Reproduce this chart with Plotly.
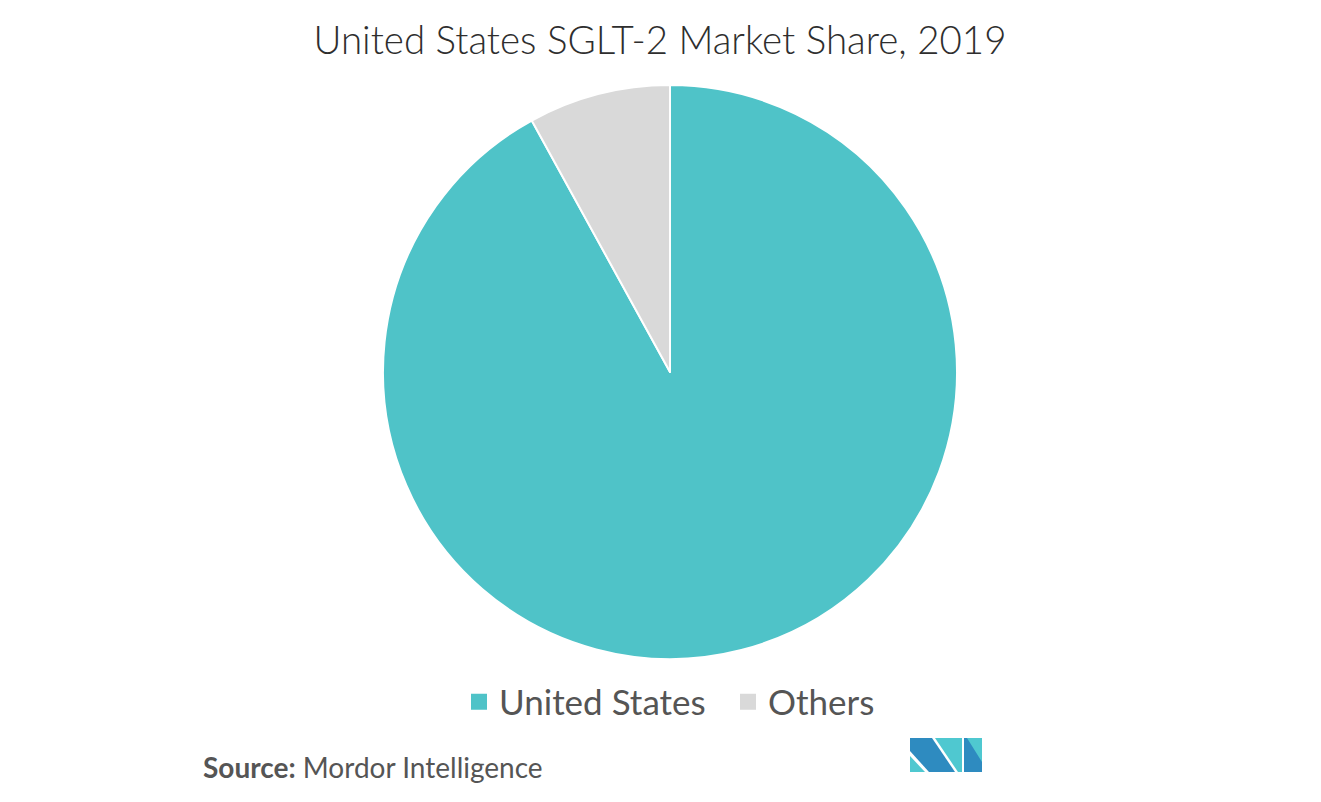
import plotly.graph_objects as go

categories = ["United States", "Others"]
shares = [92, 8]
colors = ["#4FC3C8", "#D9D9D9"]

title_text = "United States SGLT-2 Market Share, 2019"
source_label = "Source:"
source_name = "Mordor Intelligence"

# page body has an 8px margin; size the figure to the visible area
OFF = 8
W, H = 1321 - 2 * OFF, 802 - 2 * OFF


def px(x):
    return (x - OFF) / W


def py(y):
    return 1 - (y - OFF) / H


fig = go.Figure()
fig.add_trace(go.Pie(
    labels=categories,
    values=shares,
    sort=False,
    direction="clockwise",
    rotation=0,
    marker=dict(colors=colors, line=dict(color="white", width=2)),
    textinfo="none",
    hoverinfo="label+percent",
    showlegend=False,
    domain=dict(x=[px(383), px(957)], y=[py(659), py(85)]),
))

# legend entries with larger square swatches
for name, c in zip(categories, colors):
    fig.add_trace(go.Scatter(
        x=[None], y=[None], mode="markers", name=name,
        marker=dict(symbol="square", size=17, color=c),
        showlegend=True, hoverinfo="skip",
    ))


def path(points):
    return "M " + " L ".join(f"{px(x)},{py(y)}" for x, y in points) + " Z"


dark = "#2E8BC0"
teal = "#4FC8D0"
logo = [
    ([(910, 738), (932, 738), (955, 772), (929, 772), (910, 751)], dark),
    ([(910, 756), (910, 772), (925, 772)], teal),
    ([(935, 738), (962, 738), (962, 772), (958, 772)], teal),
    ([(964, 738), (982, 738), (982, 772), (964, 772)], dark),
    ([(967, 738), (982, 738), (982, 762)], teal),
]
shapes = []
for pts, c in logo:
    shapes.append(dict(type="path", xref="paper", yref="paper", path=path(pts),
                       fillcolor=c, line=dict(width=0)))

fig.update_layout(
    width=W, height=H,
    paper_bgcolor="white",
    plot_bgcolor="white",
    margin=dict(l=0, r=0, t=0, b=0),
    xaxis=dict(visible=False),
    yaxis=dict(visible=False),
    font=dict(family="Lato, sans-serif", color="#555555"),
    title=dict(text=title_text, x=px(660), xanchor="center", y=py(41), yanchor="middle",
               font=dict(family="Lato, sans-serif", size=38.5, color="#2E2E2E", weight=300)),
    showlegend=True,
    legend=dict(orientation="h", x=px(459), xanchor="left", y=py(702), yanchor="middle",
                font=dict(family="Lato, sans-serif", size=35, color="#555555"),
                itemwidth=30, entrywidth=224, entrywidthmode="pixels",
                traceorder="normal", bgcolor="rgba(0,0,0,0)"),
    annotations=[dict(
        text=f"<b>{source_label}</b> {source_name}",
        x=px(201), y=py(767), xref="paper", yref="paper",
        xanchor="left", yanchor="middle", showarrow=False,
        font=dict(family="Lato, sans-serif", size=28, color="#555555"),
    )],
    shapes=shapes,
)

fig.write_html("out.html")
